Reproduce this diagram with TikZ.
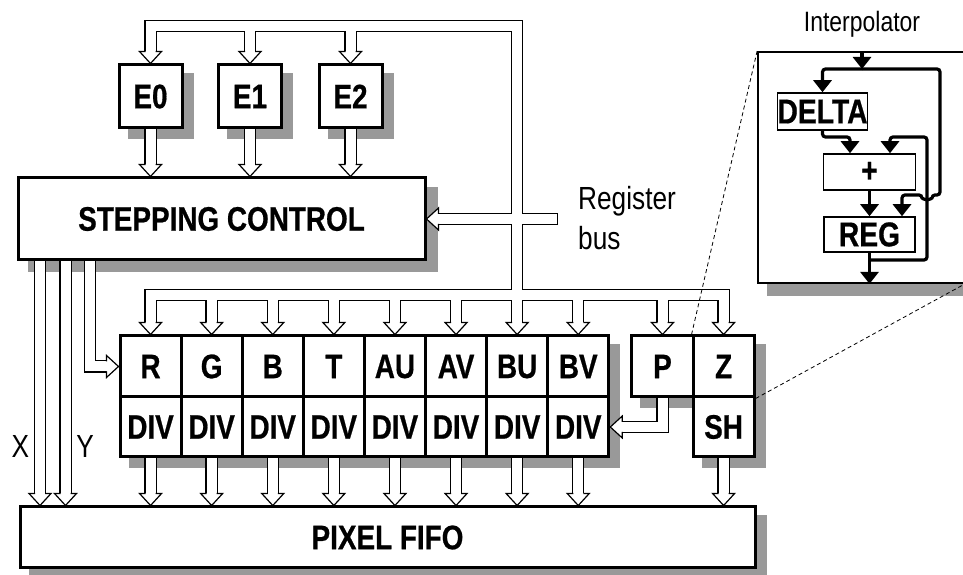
\documentclass[tikz,border=0pt]{standalone}
\usepackage{fontspec}
\newfontfamily\narrowsans{Liberation Sans}[FakeStretch=0.82, BoldFeatures={FakeBold=0.6}]
\usetikzlibrary{arrows.meta,positioning,calc,backgrounds}
\definecolor{ink}{HTML}{000000}
\definecolor{shadowgray}{HTML}{999999}
\tikzset{
  unitbox/.style={
    draw=ink, fill=white, line width=3pt, inner sep=0pt,
    minimum width=61.1pt, minimum height=61pt,
    font=\narrowsans\bfseries\fontsize{34}{38}\selectfont
  },
  divbox/.style={unitbox, minimum height=60pt},
  edgebox/.style={unitbox, minimum width=63pt, minimum height=63pt},
  widebox/.style={unitbox, minimum height=82pt},
  innerbox/.style={
    draw=ink, fill=white, line width=1.5pt, inner sep=0pt,
    font=\narrowsans\bfseries\fontsize{34.5}{38}\selectfont
  },
  plainlabel/.style={font=\narrowsans\fontsize{32}{40}\selectfont, inner sep=0pt},
  dropshade/.style={fill=shadowgray},
  buswall/.style={draw=ink, line width=12.4pt, line join=miter},
  busgut/.style={draw=white, line width=10pt, line join=miter},
  flow/.style={
    draw=ink, line width=3.2pt, rounded corners=3pt,
    -{Triangle[length=12pt,width=18pt]}
  },
  zoomline/.style={draw=ink, line width=0.8pt, dash pattern=on 4pt off 3pt},
  hollowhead/.pic={
    \fill[white] (-11,12) -- (0,0) -- (11,12) -- cycle;
    \draw[ink, line width=1.2pt] (-5,12) -- (-11,12) -- (0,0) -- (11,12) -- (5,12);
  }
}

\begin{document}
\begin{tikzpicture}[x=1pt, y=1pt]
\useasboundingbox (0,0) rectangle (963,575);

% edge walkers and stepping control
\foreach \n/\x in {E0/150.5, E1/250, E2/350.5}
  \node[edgebox] (\n) at (\x,478.5) {\n};
\node[widebox, minimum width=407pt] (stepctl) at (221.5,356) {STEPPING CONTROL};

% parameter interpolators
\foreach \n [count=\i from 0] in {R,G,B,T,AU,AV,BU,BV} {
  \node[unitbox] (\n) at ({150.55+61.1*\i},208.5) {\n};
  \node[divbox] (div\n) at ({150.55+61.1*\i},148) {DIV};
}
\node[unitbox] (P) at (662.5,208.5) {P};
\node[unitbox] (Z) at (723.6,208.5) {Z};
\node[divbox] (SH) at (723.6,148) {SH};
\node[unitbox, minimum width=735pt] (fifo) at (387.5,37.5) {PIXEL FIFO};

\node[plainlabel, anchor=base west, align=left] (buslabel) at (578,325) {Register\\bus};
\node[plainlabel] (xlabel) at (20.5,128.5) {X};
\node[plainlabel] (ylabel) at (85,128.5) {Y};

% interpolator detail
\node[draw=ink, fill=white, line width=1.8pt, minimum width=206pt, minimum height=231pt] (interp) at (861,407.5) {};
\node[plainlabel, font=\narrowsans\fontsize{28}{32}\selectfont, anchor=base] (title) at (862,543.5) {Interpolator};
\node[innerbox, minimum width=89pt, minimum height=37pt] (delta) at (822.5,463.5) {DELTA};
\node[innerbox, minimum width=92pt, minimum height=36pt] (plus) at (869.5,403) {+};
\node[innerbox, minimum width=91pt, minimum height=35pt] (reg) at (869.5,340.5) {REG};

\coordinate (fork) at (862,506);
\coordinate (dturn) at (850,438);
\coordinate (fturn) at (890,438);
\coordinate (riser) at (927,315);
\coordinate (outer) at (940,506);
\coordinate (hop) at (902,380);

\draw[flow] (interp.north -| fork) -- (fork);
\draw[flow] (fork) -| (delta.north);
\draw[flow] (fork) -| (outer |- hop) -- ($(riser |- hop)+(5,0)$)
  arc[start angle=0, end angle=-180, radius=5] -| (reg.north -| hop);
\draw[flow] (delta.south) |- (dturn) -- (plus.north -| dturn);
\draw[flow] (plus.south) -- (reg.north);
\draw[flow] (reg.south) -- (interp.south -| reg.south);
\draw[flow] (reg.south |- riser) -| (riser |- fturn) -| (plus.north -| fturn);

\draw[zoomline] (Z.north west) -- (interp.north west);
\draw[zoomline] (Z.south east) -- (interp.south east);

% hollow buses
\coordinate (topbus) at (0,549);
\coordinate (lowbus) at (0,280);
\coordinate (regend) at (558,356);
\coordinate (xlane) at (40,0);
\coordinate (ylane) at (65.5,0);
\coordinate (rlane) at (90,0);

\begin{scope}[on background layer]
  \foreach \n in {E0,E1,E2,P,fifo}
    \fill[dropshade] ($(\n.south west)+(10,-10)$) rectangle ($(\n.north east)+(10,-10)$);
  \fill[dropshade] ($(stepctl.south west)+(11,-11)$) rectangle ($(stepctl.north east)+(11,-11)$);
  \fill[dropshade] ($(R.north west)+(10,-10)$) rectangle ($(divBV.south east)+(10,-10)$);
  \fill[dropshade] ($(Z.north west)+(10,-10)$) rectangle ($(SH.south east)+(10,-10)$);
  \fill[dropshade] ($(interp.south west)+(10,-12)$) rectangle ($(interp.north east)+(10,-12)$);

  \foreach \pass in {buswall,busgut} {
    \draw[\pass] ($(E0.north)+(0,12)$) |- (BU.north |- topbus) -- ($(BU.north)+(0,12)$);
    \foreach \n in {E1,E2}
      \draw[\pass] (\n.north |- topbus) -- ($(\n.north)+(0,12)$);
    \draw[\pass] (regend) -- ($(stepctl.east)+(12,0)$);
    \draw[\pass] ($(R.north)+(0,12)$) |- (Z.north |- lowbus) -- ($(Z.north)+(0,12)$);
    \foreach \n in {G,B,T,AU,AV,BV,P}
      \draw[\pass] (\n.north |- lowbus) -- ($(\n.north)+(0,12)$);
    \foreach \n in {E0,E1,E2}
      \draw[\pass] (\n.south) -- ($(\n.south |- stepctl.north)+(0,12)$);
    \foreach \c in {xlane,ylane}
      \draw[\pass] (stepctl.south -| \c) -- ($(fifo.north -| \c)+(0,12)$);
    \draw[\pass] (stepctl.south -| rlane) |- ($(R.west)+(-12,0)$);
    \foreach \n in {divR,divG,divB,divT,divAU,divAV,divBU,divBV,SH}
      \draw[\pass] (\n.south) -- ($(\n.south |- fifo.north)+(0,12)$);
    \draw[\pass] (P.south) |- ($(divBV.east)+(12,0)$);
  }

  \foreach \n in {E0,E1,E2,R,G,B,T,AU,AV,BU,BV,P,Z}
    \pic at (\n.north) {hollowhead};
  \foreach \n in {E0,E1,E2}
    \pic at (\n.south |- stepctl.north) {hollowhead};
  \foreach \n in {divR,divG,divB,divT,divAU,divAV,divBU,divBV,SH}
    \pic at (\n.south |- fifo.north) {hollowhead};
  \foreach \c in {xlane,ylane}
    \pic at (fifo.north -| \c) {hollowhead};
  \pic[rotate=90] at (R.west) {hollowhead};
  \pic[rotate=-90] at (divBV.east) {hollowhead};
  \pic[rotate=-90] at (stepctl.east) {hollowhead};
  \draw[line width=1.2pt] ($(regend)+(-0.6,-6.2)$) -- ($(regend)+(-0.6,6.2)$);
\end{scope}
\end{tikzpicture}
\end{document}
